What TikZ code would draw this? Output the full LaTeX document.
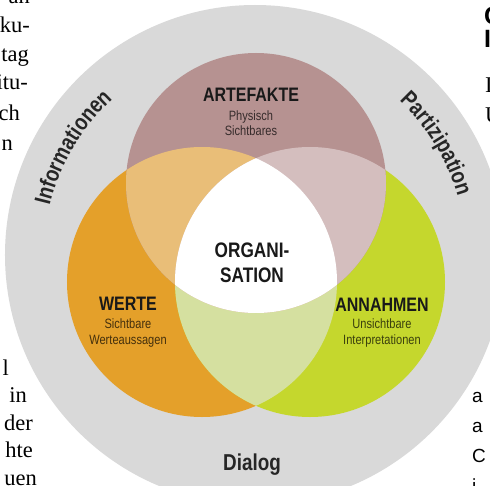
\documentclass[tikz,border=0pt]{standalone}
\usepackage{fontspec}
\setmainfont{Liberation Serif}
\newfontfamily\cond[FakeStretch=0.82]{Liberation Sans}
\newfontfamily\plainsans{Liberation Sans}
\newcommand\randschrift{\cond\bfseries\fontsize{23}{25}\selectfont}
\usetikzlibrary{positioning,decorations.text}

\definecolor{ring}{HTML}{D9D9D9}
\definecolor{mauve}{HTML}{B69291}
\definecolor{ocker}{HTML}{E4A02A}
\definecolor{gruen}{HTML}{C5D72D}
\definecolor{ockermauve}{HTML}{E9BE78}
\definecolor{mauvegruen}{HTML}{D4BEBE}
\definecolor{ockergruen}{HTML}{D5E0A0}

\begin{document}
\begin{tikzpicture}[x=1pt, y=1pt,
kopf/.style={font=\cond\bfseries\fontsize{19.5}{22}\selectfont, inner sep=0pt, anchor=base, text=black!90},
unter/.style={font=\cond\fontsize{13.5}{16}\selectfont, inner sep=0pt, align=center, text=black, text opacity=0.7},
seite/.style={font=\fontsize{22.5}{27}\selectfont, inner sep=0pt},
rand/.style={decorate, decoration={text along path, text align=center, text color=black!85}}]
\clip (-255,-230) rectangle (235,255);
\fill[white] (-255,-230) rectangle (235,255);
\coordinate (art) at (1,72);
\coordinate (wer) at (-53,-27);
\coordinate (ann) at (55,-27);
% ring and the three circles
\fill[ring] (0,0) circle[radius=250];
\fill[ocker] (wer) circle[radius=135];
\fill[gruen] (ann) circle[radius=135];
\fill[mauve] (art) circle[radius=130];
% overlaps
\begin{scope}
\clip (wer) circle[radius=135];
\fill[ockergruen] (ann) circle[radius=135];
\end{scope}
\begin{scope}
\clip (art) circle[radius=130];
\fill[ockermauve] (wer) circle[radius=135];
\fill[mauvegruen] (ann) circle[radius=135];
\clip (wer) circle[radius=135];
\fill[white] (ann) circle[radius=135];
\end{scope}
% labels in the circles (base of a two-line node is its last line)
\node[kopf] (artk) at (-4,153) {ARTEFAKTE};
\node[unter, below=34pt of artk.base, anchor=base] (artu) {Physisch\\Sichtbares};
\node[kopf, font=\cond\bfseries\fontsize{21}{25}\selectfont, align=center] (org) at (-3,-27) {ORGANI-\\SATION};
\node[kopf] (werk) at (-127,-55.5) {WERTE};
\node[unter, below=34pt of werk.base, anchor=base] (weru) {Sichtbare\\Werteaussagen};
\node[kopf] (annk) at (127,-56.5) {ANNAHMEN};
\node[unter, below=33pt of annk.base, anchor=base] (annu) {Unsichtbare\\Interpretationen};
% ring labels
\path[rand, decoration={text={|\randschrift|Informationen}}] (190:211) arc[start angle=190, end angle=109, radius=211];
\path[rand, decoration={text={|\randschrift|Partizipation}}] (72:211) arc[start angle=72, end angle=-9, radius=211];
\node[kopf, font=\randschrift, text=black!85] (dia) at (-3,-215) {Dialog};
% page text around the figure
\node[seite, anchor=base east] (l1) at (-225,251) {an};
\node[seite, anchor=base east] (l2) at (-225,222) {ku-};
\node[seite, anchor=base east] (l3) at (-226,193) {tag};
\node[seite, anchor=base east] (l4) at (-227,165) {itu-};
\node[seite, anchor=base east] (l5) at (-235,135) {ch};
\node[seite, anchor=base east] (l6) at (-242,104) {n};
\node[seite, anchor=base east] (l7) at (-246,-120) {l};
\node[seite, anchor=base east] (l8) at (-228,-147) {in};
\node[seite, anchor=base east] (l9) at (-222,-175) {der};
\node[seite, anchor=base east] (l10) at (-222,-202.5) {hte};
\node[seite, anchor=base east] (l11) at (-218,-230) {uen};
\node[seite, anchor=base west, font=\plainsans\bfseries\fontsize{25}{30}\selectfont] (r1) at (229,230) {C};
\node[seite, anchor=base west, font=\plainsans\bfseries\fontsize{25}{30}\selectfont] (r2) at (229,207) {I};
\node[seite, anchor=base west] (r3) at (230,162) {I};
\node[seite, anchor=base west] (r4) at (230,132) {U};
\node[seite, anchor=base west, font=\plainsans\fontsize{19}{30}\selectfont] (r5) at (217,-147) {a};
\node[seite, anchor=base west, font=\plainsans\fontsize{19}{30}\selectfont] (r6) at (217,-177) {a};
\node[seite, anchor=base west, font=\plainsans\fontsize{19}{30}\selectfont] (r7) at (217,-207) {C};
\node[seite, anchor=base west, font=\plainsans\fontsize{19}{30}\selectfont] (r8) at (217,-237) {i};
\end{tikzpicture}
\end{document}
